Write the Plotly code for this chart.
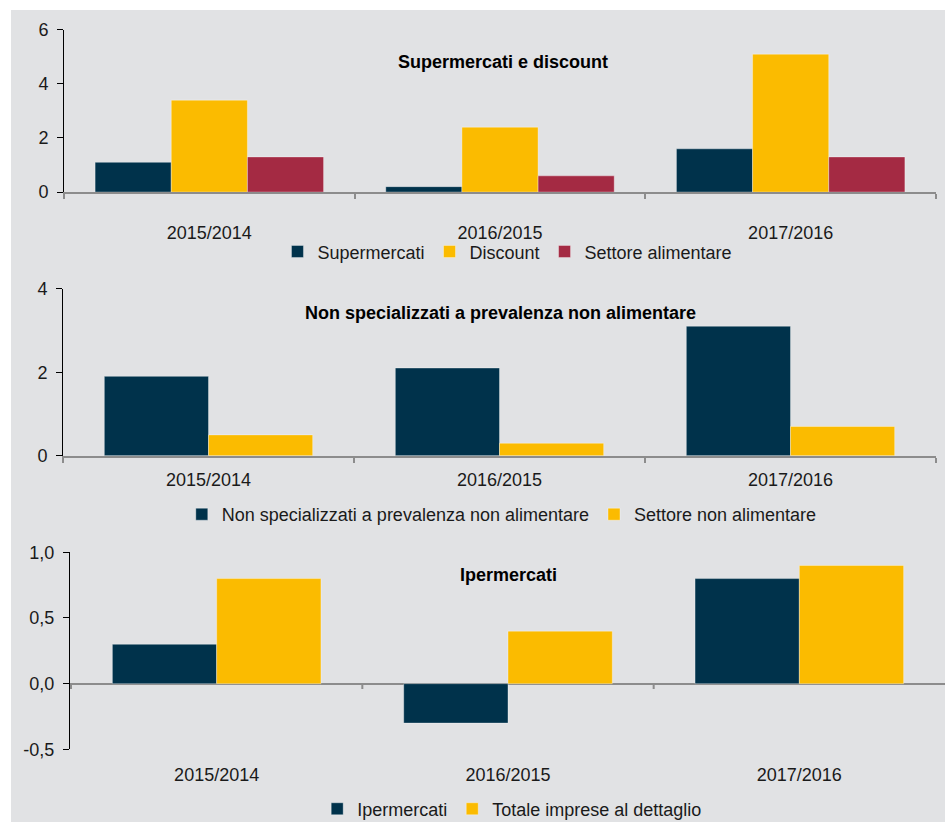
import plotly.graph_objects as go

categories = ["2015/2014", "2016/2015", "2017/2016"]

supermercati = [1.1, 0.2, 1.6]
discount = [3.4, 2.4, 5.1]
settore_alimentare = [1.3, 0.6, 1.3]

non_specializzati = [1.9, 2.1, 3.1]
settore_non_alimentare = [0.5, 0.3, 0.7]

ipermercati = [0.3, -0.3, 0.8]
totale_dettaglio = [0.8, 0.4, 0.9]

y3_tickvals = [-0.5, 0.0, 0.5, 1.0]
y3_ticktext = ["-0,5", "0,0", "0,5", "1,0"]

NAVY = "#00324b"
YELLOW = "#fbbb00"
RED = "#a42a43"
BG = "#e1e2e4"
TXT = "#1a1a1a"
FONT = "Liberation Sans, Arial, sans-serif"

W, H = 945, 828


def px_x(p):
    return p / W


def px_y(p):
    return 1 - p / H


fig = go.Figure()


def add_bar(x, y, name, color, xa, ya, legend, width, offset):
    fig.add_trace(go.Bar(
        x=x, y=y, name=name, xaxis=xa, yaxis=ya, legend=legend,
        marker=dict(color=color, line=dict(color="rgba(255,255,255,0.35)", width=1)),
        width=width, offset=offset, hoverinfo="x+y+name",
    ))


w1 = 0.262
add_bar(categories, supermercati, "Supermercati", NAVY, "x", "y", "legend", w1, -1.5 * w1)
add_bar(categories, discount, "Discount", YELLOW, "x", "y", "legend", w1, -0.5 * w1)
add_bar(categories, settore_alimentare, "Settore alimentare", RED, "x", "y", "legend", w1, 0.5 * w1)

w2 = 0.358
add_bar(categories, non_specializzati, "Non specializzati a prevalenza non alimentare", NAVY, "x2", "y2", "legend2", w2, -w2)
add_bar(categories, settore_non_alimentare, "Settore non alimentare", YELLOW, "x2", "y2", "legend2", w2, 0)

w3 = 0.358
add_bar(categories, ipermercati, "Ipermercati", NAVY, "x3", "y3", "legend3", w3, -w3)
add_bar(categories, totale_dettaglio, "Totale imprese al dettaglio", YELLOW, "x3", "y3", "legend3", w3, 0)

tickfont = dict(family=FONT, size=18, color=TXT)

xcommon = dict(type="category", tickfont=tickfont, automargin=False, fixedrange=True)
ycommon = dict(tickfont=tickfont, showgrid=False, showline=True, linecolor="#000000",
               linewidth=1, ticks="outside", ticklen=6, tickcolor="#000000",
               ticklabelstandoff=5, automargin=False, fixedrange=True)

legend_common = dict(orientation="h", xanchor="center", yanchor="middle",
                     font=dict(family=FONT, size=18, color=TXT),
                     bgcolor="rgba(0,0,0,0)", itemwidth=30, tracegroupgap=0,
                     itemclick=False, itemdoubleclick=False)

fig.update_layout(
    width=W, height=H,
    margin=dict(l=0, r=0, t=0, b=0),
    paper_bgcolor="#ffffff",
    plot_bgcolor="rgba(0,0,0,0)",
    separators=",.",
    barmode="group",
    font=dict(family=FONT, color=TXT),
    xaxis=dict(domain=[px_x(64), px_x(936)], anchor="y", showline=True, linecolor="#8c8c8c",
               linewidth=2, ticks="outside", tickson="boundaries", ticklen=5,
               tickcolor="#8c8c8c", tickwidth=2, ticklabelstandoff=23, **xcommon),
    yaxis=dict(domain=[px_y(193), px_y(30)], anchor="x", range=[0, 6], dtick=2,
               zeroline=False, **ycommon),
    xaxis2=dict(domain=[px_x(63), px_x(936)], anchor="y2", showline=True, linecolor="#8c8c8c",
                linewidth=2, ticks="outside", tickson="boundaries", ticklen=5,
                tickcolor="#8c8c8c", tickwidth=2, ticklabelstandoff=7, **xcommon),
    yaxis2=dict(domain=[px_y(458), px_y(290)], anchor="x2", range=[0, 4], dtick=2,
                zeroline=False, **ycommon),
    xaxis3=dict(domain=[px_x(70), 1.0], anchor="y3", showline=False, ticks="",
                ticklabelstandoff=13, **xcommon),
    yaxis3=dict(domain=[px_y(753), px_y(555)], anchor="x3", range=[-0.5, 1.0],
                tickvals=y3_tickvals, ticktext=y3_ticktext,
                zeroline=True, zerolinecolor="#8c8c8c", zerolinewidth=2,
                **ycommon),
    legend=dict(x=0.537, y=px_y(253), **legend_common),
    legend2=dict(x=0.531, y=px_y(517), **legend_common),
    legend3=dict(x=0.542, y=px_y(813), **legend_common),
)

# grey background panel
fig.add_shape(type="rect", xref="paper", yref="paper", x0=px_x(11), x1=1.0,
              y0=px_y(826), y1=px_y(10), fillcolor=BG, line=dict(width=0), layer="below")

# boundary tick marks on the zero line of the bottom panel
for b in [i - 0.5 for i in range(len(categories))]:
    fig.add_shape(type="line", xref="x3", yref="y3", x0=b, x1=b, y0=0, y1=-0.04,
                  line=dict(color="#8c8c8c", width=2))

titles = [
    ("Supermercati e discount", 503, 62),
    ("Non specializzati a prevalenza non alimentare", 500, 315),
    ("Ipermercati", 508, 578),
]
for text, cx, cy in titles:
    fig.add_annotation(text="<b>%s</b>" % text, x=px_x(cx), y=px_y(cy), xref="paper", yref="paper",
                       showarrow=False, xanchor="center", yanchor="middle",
                       font=dict(family=FONT, size=18, color="#000000"))

post = (
    "document.documentElement.style.margin='0';"
    "document.documentElement.style.overflow='hidden';"
    "document.documentElement.style.height='828px';"
    "document.body.style.margin='0';"
    "document.body.style.overflow='hidden';"
    "document.body.style.height='828px';"
)
fig.write_html("out.html", config={"displayModeBar": False}, post_script=post)
